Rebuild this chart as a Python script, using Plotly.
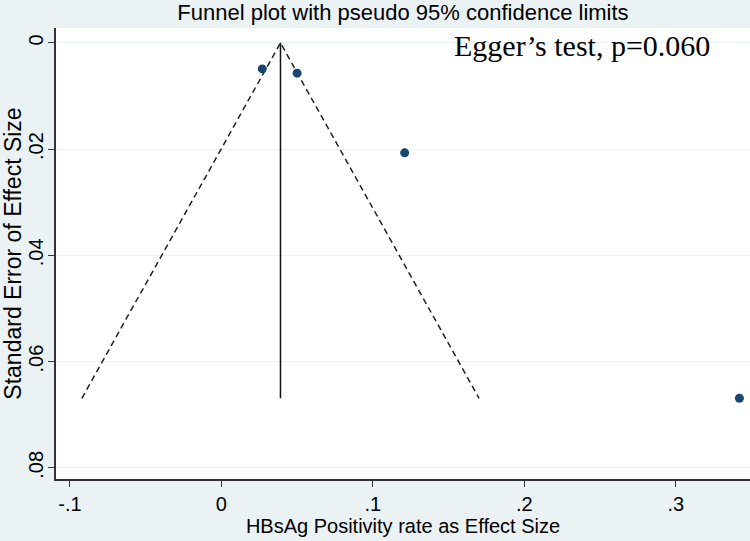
import plotly.graph_objects as go

# study estimates
effect = [0.027, 0.050, 0.121, 0.342]
se = [0.0049, 0.0057, 0.0207, 0.0669]
pooled = 0.039

x_ticks = [-0.1, 0, 0.1, 0.2, 0.3]
x_labels = ["-.1", "0", ".1", ".2", ".3"]
y_ticks = [0, 0.02, 0.04, 0.06, 0.08]
y_labels = ["0", ".02", ".04", ".06", ".08"]

se_max = max(se)
lo = pooled - 1.96 * se_max
hi = pooled + 1.96 * se_max

BG = "#EAF2F3"
FONT = "Liberation Sans, Arial, sans-serif"

fig = go.Figure()

# pseudo 95% limits
fig.add_trace(go.Scatter(x=[lo, pooled, hi], y=[se_max, 0, se_max], mode="lines",
                         line=dict(color="#222222", width=1.5, dash="6px,4px"),
                         hoverinfo="skip", showlegend=False))
fig.add_trace(go.Scatter(x=[pooled, pooled], y=[0, se_max], mode="lines",
                         line=dict(color="#111111", width=1.5),
                         hoverinfo="skip", showlegend=False))
fig.add_trace(go.Scatter(x=effect, y=se, mode="markers",
                         marker=dict(color="#1A476F", size=9),
                         showlegend=False))

fig.add_annotation(x=0.758, y=0.962, xref="paper", yref="paper",
                   text="Egger\u2019s test, p=0.060", showarrow=False,
                   xanchor="center", yanchor="middle",
                   font=dict(family="Liberation Serif, Times New Roman, serif", size=30, color="black"))

fig.update_layout(
    width=750, height=541,
    paper_bgcolor=BG, plot_bgcolor="white",
    margin=dict(l=56, r=0, t=28, b=62),
    font=dict(family=FONT, color="black"),
    title=dict(text="Funnel plot with pseudo 95% confidence limits",
               x=0.5, xref="paper", y=0.978, yanchor="middle",
               font=dict(size=22, color="black")),
    xaxis=dict(range=[-0.1092, 0.349], tickvals=x_ticks, ticktext=x_labels,
               ticks="outside", ticklen=6, tickcolor="#333333", automargin=False,
               showline=True, linecolor="#333333", linewidth=1.5,
               showgrid=False, zeroline=False, tickfont=dict(size=20),
               title=dict(text="HBsAg Positivity rate as Effect Size", font=dict(size=20), standoff=0)),
    yaxis=dict(range=[0.0821, -0.0028], tickvals=y_ticks, ticktext=y_labels,
               ticks="outside", ticklen=6, tickcolor="#333333", tickangle=-90, automargin=False,
               showline=True, linecolor="#333333", linewidth=1.5,
               showgrid=True, gridcolor=BG, gridwidth=1, zeroline=False,
               tickfont=dict(size=20), ticklabelstandoff=-3,
               title=dict(text="Standard Error of Effect Size", font=dict(size=23), standoff=0)),
)

fig.write_html("out.html", config={"displayModeBar": False},
               post_script="document.body.style.margin='0';")
